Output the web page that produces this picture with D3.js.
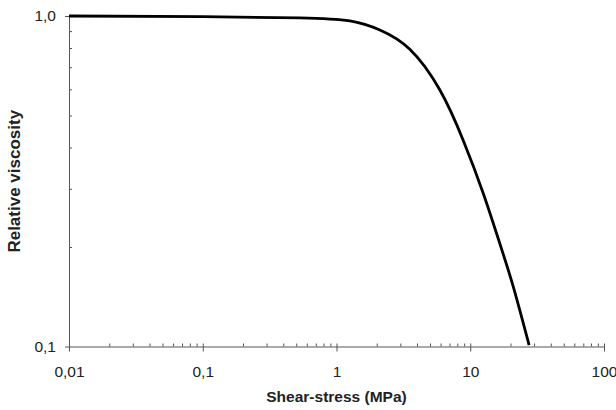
<!DOCTYPE html>
<html><head><meta charset="utf-8">
<script src="https://cdn.jsdelivr.net/npm/d3@7"></script>
<style>body{margin:0;background:#fff;} svg{display:block;}</style>
</head><body>
<script>
const stress = [0.01, 0.1, 0.53, 1.257, 2.109, 3.532, 5.929, 8.851, 12.50, 16.63, 20.94, 27.54];
const viscosity = [1.0, 0.995, 0.987, 0.966, 0.907, 0.793, 0.597, 0.421, 0.291, 0.205, 0.152, 0.101];
const xTicks = [0.01, 0.1, 1, 10, 100];
const xTickLabels = ["0,01", "0,1", "1", "10", "100"];
const yTicks = [0.1, 1];
const yTickLabels = ["0,1", "1,0"];
const xTitle = "Shear-stress (MPa)";
const yTitle = "Relative viscosity";

const W = 616, H = 410;
const L = 69, R = 604, T = 16, B = 346.5;
const svg = d3.select("body").append("svg").attr("width", W).attr("height", H);
const x = d3.scaleLog().domain([0.01, 100]).range([L, R]);
const y = d3.scaleLog().domain([0.1, 1]).range([B, T]);
const axisCol = "#555", txtCol = "#222";
const font = "Liberation Sans, Arial, sans-serif";

const xMinor = [];
for (let d = 0.01; d < 100; d *= 10) for (let k = 2; k <= 9; k++) xMinor.push(d * k);
const yMinor = [];
for (let k = 2; k <= 9; k++) yMinor.push(0.1 * k);

const gx = svg.append("g").attr("transform", `translate(0,${B})`);
gx.call(d3.axisBottom(x).tickValues(xMinor).tickSize(-3).tickFormat(""));
gx.call(g => g.selectAll(".domain").remove());
const gx2 = svg.append("g").attr("transform", `translate(0,${B})`);
gx2.call(d3.axisBottom(x).tickValues(xTicks).tickSizeInner(5).tickSizeOuter(0).tickPadding(14)
  .tickFormat((d, i) => xTickLabels[i]));
gx2.selectAll(".tick line").attr("y1", -3);

const gy = svg.append("g").attr("transform", `translate(${L},0)`);
gy.call(d3.axisRight(y).tickValues(yMinor).tickSize(3).tickFormat(""));
gy.call(g => g.selectAll(".domain").remove());
const gy2 = svg.append("g").attr("transform", `translate(${L},0)`);
gy2.call(d3.axisLeft(y).tickValues(yTicks).tickSizeInner(4).tickSizeOuter(0).tickPadding(9)
  .tickFormat((d, i) => yTickLabels[i]));

svg.selectAll("path.domain, .tick line").attr("stroke", axisCol).attr("stroke-width", 1);
svg.selectAll(".tick text").attr("font-family", font).attr("font-size", 15.5).attr("fill", txtCol);

const line = d3.line().x((d, i) => x(stress[i])).y((d, i) => y(viscosity[i])).curve(d3.curveNatural);
svg.append("path").datum(stress).attr("d", line).attr("fill", "none")
  .attr("stroke", "#000").attr("stroke-width", 2.8);

svg.append("text").attr("x", (L + R) / 2).attr("y", 402).attr("text-anchor", "middle")
  .attr("font-family", font).attr("font-weight", "bold").attr("font-size", 15.5).attr("fill", txtCol)
  .text(xTitle);
svg.append("text").attr("transform", `translate(20,${(T + B) / 2}) rotate(-90)`).attr("text-anchor", "middle")
  .attr("font-family", font).attr("font-weight", "bold").attr("font-size", 17).attr("fill", txtCol)
  .text(yTitle);
</script>
</body></html>
